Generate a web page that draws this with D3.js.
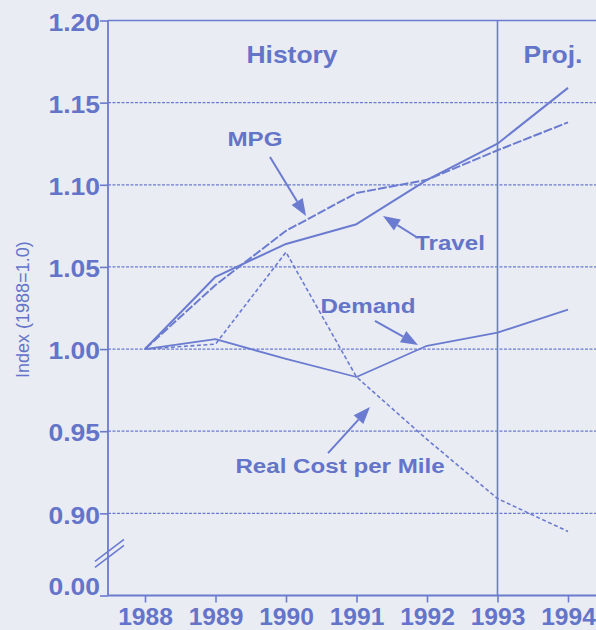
<!DOCTYPE html>
<html>
<head>
<meta charset="utf-8">
<script src="https://cdn.jsdelivr.net/npm/d3@7"></script>
<style>
  html, body { margin: 0; padding: 0; background: #e9ecf3; }
  svg { display: block; }
  text { font-family: "Liberation Sans", Arial, Helvetica, sans-serif; }
</style>
</head>
<body>
<svg id="chart" width="596" height="630"></svg>
<script>
// ---- Data ----
const years = [1988, 1989, 1990, 1991, 1992, 1993, 1994];
const travel = [1.000, 1.044, 1.064, 1.076, 1.103, 1.125, 1.159];
const mpg = [1.000, 1.039, 1.072, 1.095, 1.103, 1.121, 1.138];
const demand = [1.000, 1.006, 0.994, 0.983, 1.002, 1.010, 1.024];
const realCost = [1.000, 1.003, 1.059, 0.983, 0.945, 0.909, 0.889];
const projectionStart = 1993;
const yTickValues = [0.85, 0.90, 0.95, 1.00, 1.05, 1.10, 1.15, 1.20];
const yTickLabels = ["0.00", "0.90", "0.95", "1.00", "1.05", "1.10", "1.15", "1.20"];
const xTickLabels = ["1988", "1989", "1990", "1991", "1992", "1993", "1994"];
const yAxisTitle = "Index (1988=1.0)";

// ---- Setup ----
const W = 596, H = 630;
const C = "#6474c9";
const LINE = "#6b7bd0";
const SX = 1.15; // horizontal stretch of scanned type
const svg = d3.select("#chart");
svg.append("rect").attr("width", W).attr("height", H).attr("fill", "#e9ecf3");

const left = 108, right = W;
const x = d3.scaleLinear().domain([1988, 1994]).range([145, 568]);
const y = d3.scaleLinear().domain([0.85, 1.20]).range([595.5, 20.5]);

// gridlines
svg.append("g").selectAll("line")
  .data(yTickValues.filter(v => v > 0.85))
  .join("line")
  .attr("x1", left).attr("x2", right)
  .attr("y1", d => y(d)).attr("y2", d => y(d))
  .attr("stroke", LINE).attr("stroke-width", d => d === 1.20 ? 1.6 : 1.3)
  .attr("stroke-dasharray", d => d === 1.20 ? null : "3,1.5");

// projection divider
svg.append("line")
  .attr("x1", x(projectionStart)).attr("x2", x(projectionStart))
  .attr("y1", y(1.20)).attr("y2", y(0.85))
  .attr("stroke", LINE).attr("stroke-width", 1.6);

// y axis
const yAxis = d3.axisLeft(y).tickValues(yTickValues)
  .tickFormat((d, i) => yTickLabels[i]).tickSizeInner(8).tickSizeOuter(0).tickPadding(0);
const gy = svg.append("g").attr("transform", `translate(${left},0)`).call(yAxis);
gy.select(".domain").remove();
gy.selectAll(".tick line").attr("stroke", LINE).attr("stroke-width", 1.6);
gy.selectAll(".tick text")
  .attr("fill", C).attr("font-size", 23).attr("font-weight", "bold")
  .attr("x", 0).attr("dy", (d, i) => i === 0 ? "-0.05em" : "0.42em")
  .attr("transform", `translate(-8,0) scale(${SX},1)`);

// left axis line and bottom axis line
svg.append("line").attr("x1", left).attr("x2", left).attr("y1", y(1.20)).attr("y2", y(0.85))
  .attr("stroke", LINE).attr("stroke-width", 1.8);
svg.append("line").attr("x1", left).attr("x2", right).attr("y1", y(0.85)).attr("y2", y(0.85))
  .attr("stroke", LINE).attr("stroke-width", 1.8);

// x axis
const xAxis = d3.axisBottom(x).tickValues(years)
  .tickFormat((d, i) => xTickLabels[i]).tickSizeInner(7).tickSizeOuter(0).tickPadding(0);
const gx = svg.append("g").attr("transform", `translate(0,${y(0.85)})`).call(xAxis);
gx.select(".domain").remove();
gx.selectAll(".tick line").attr("stroke", LINE).attr("stroke-width", 1.6);
gx.selectAll(".tick text")
  .attr("fill", C).attr("font-size", 23).attr("font-weight", "bold")
  .attr("y", 0).attr("dy", 0)
  .attr("transform", `translate(0,29) scale(1.07,1)`);

// axis break marks
const by = (y(0.90) + y(0.85)) / 2;
[-3, 3].forEach(off => {
  svg.append("line")
    .attr("x1", left - 13).attr("y1", by + 10 + off)
    .attr("x2", left + 16).attr("y2", by - 12 + off)
    .attr("stroke", LINE).attr("stroke-width", 1.6);
});

// y axis title
svg.append("text")
  .attr("transform", `translate(29,${y(1.024)}) rotate(-90)`)
  .attr("text-anchor", "middle").attr("fill", C)
  .attr("font-size", 18).text(yAxisTitle);

// series lines
const line = d3.line().x((d, i) => x(years[i])).y(d => y(d));
const series = [
  { vals: travel, dash: null, w: 2 },
  { vals: mpg, dash: "9,2", w: 2 },
  { vals: demand, dash: null, w: 1.8 },
  { vals: realCost, dash: "4,2.5", w: 1.6 }
];
svg.append("g").selectAll("path").data(series).join("path")
  .attr("d", d => line(d.vals))
  .attr("fill", "none").attr("stroke", LINE)
  .attr("stroke-width", d => d.w)
  .attr("stroke-dasharray", d => d.dash)
  .attr("stroke-linejoin", "round");

// annotations
function label(txt, yr, v, size) {
  svg.append("text")
    .attr("transform", `translate(${x(yr)},${y(v)}) scale(${SX},1)`)
    .attr("text-anchor", "middle").attr("fill", C)
    .attr("font-size", size).attr("font-weight", "bold").text(txt);
}
function arrow(yr0, v0, yr1, v1) {
  const x0 = x(yr0), y0 = y(v0), x1 = x(yr1), y1 = y(v1);
  const ang = Math.atan2(y1 - y0, x1 - x0);
  const L = 17, Hw = 6.5;
  const bx = x1 - L * Math.cos(ang), byy = y1 - L * Math.sin(ang);
  svg.append("line").attr("x1", x0).attr("y1", y0).attr("x2", bx).attr("y2", byy)
    .attr("stroke", LINE).attr("stroke-width", 2);
  const px = -Math.sin(ang), py = Math.cos(ang);
  svg.append("path")
    .attr("d", `M${x1},${y1}L${bx + px * Hw},${byy + py * Hw}L${bx - px * Hw},${byy - py * Hw}Z`)
    .attr("fill", LINE);
}

label("History", 1990.085, 1.174, 23);
label("Proj.", 1993.787, 1.174, 23);
label("MPG", 1989.56, 1.1239, 21);
arrow(1989.773, 1.1169, 1990.284, 1.081);
label("Travel", 1992.326, 1.0603, 21);
arrow(1991.872, 1.0676, 1991.376, 1.0810);
label("Demand", 1991.163, 1.0220, 21);
arrow(1991.262, 1.0171, 1991.872, 1.0025);
label("Real Cost per Mile", 1990.766, 0.9246, 21);
arrow(1990.596, 0.9367, 1991.191, 0.9647);
</script>
</body>
</html>
